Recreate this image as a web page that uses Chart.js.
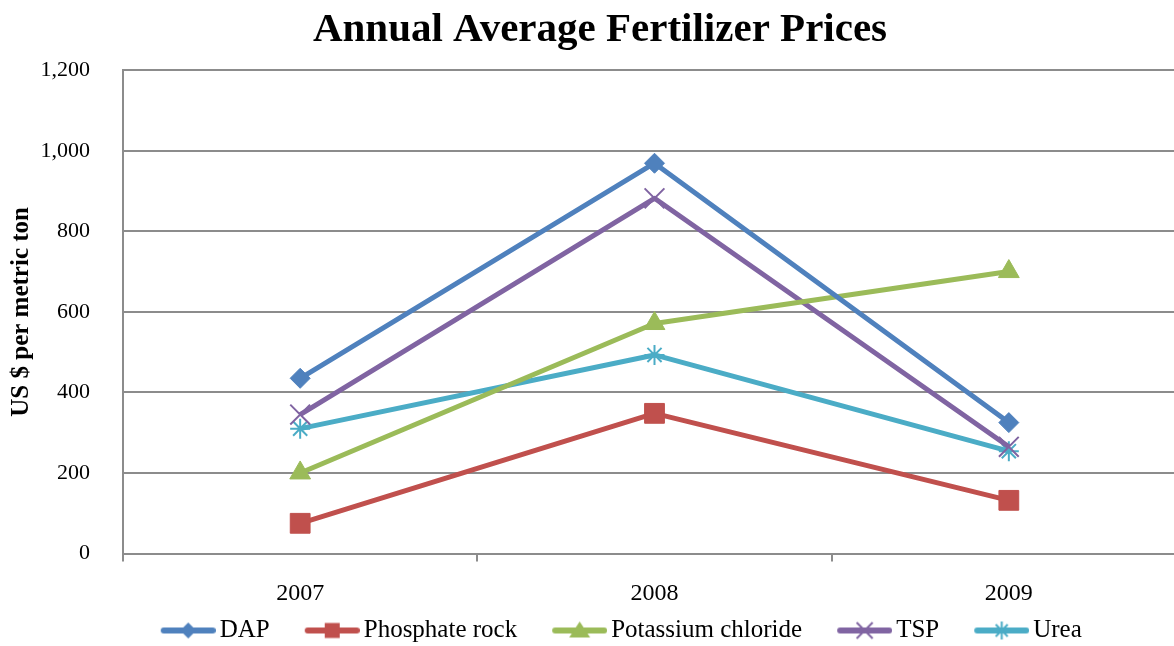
<!DOCTYPE html>
<html>
<head>
<meta charset="utf-8">
<script src="https://cdn.jsdelivr.net/npm/chart.js@4"></script>
<style>
  html, body { margin: 0; padding: 0; overflow: hidden; background: #fff; }
  #wrap { width: 1202px; height: 646px; }
</style>
</head>
<body>
<div id="wrap"><canvas id="priceChart"></canvas></div>
<script>
const years = ['2007', '2008', '2009'];
const dap = [435, 969, 325];
const phosphateRock = [75, 348, 132];
const potassiumChloride = [200, 571, 700];
const tsp = [345, 882, 265];
const urea = [310, 493, 254];
const yTicks = [0, 200, 400, 600, 800, 1000, 1200];

const axisGrey = '#8c8c8c';

// legend sample: a short line with the marker on it
function legendIcon(color, shape) {
    const c = document.createElement('canvas');
    c.width = 90;
    c.height = 26;
    const g = c.getContext('2d');
    g.strokeStyle = color;
    g.fillStyle = color;
    g.lineWidth = 6;
    g.lineCap = 'round';
    g.beginPath();
    g.moveTo(38, 13);
    g.lineTo(87, 13);
    g.stroke();
    const x = 62.5, y = 13;
    g.lineWidth = 2;
    g.lineCap = 'butt';
    g.beginPath();
    if (shape === 'diamond') {
        g.moveTo(x, y - 8); g.lineTo(x + 8, y); g.lineTo(x, y + 8); g.lineTo(x - 8, y);
        g.closePath(); g.fill();
    } else if (shape === 'square') {
        g.fillRect(x - 7.5, y - 7.5, 15, 15);
    } else if (shape === 'triangle') {
        g.moveTo(x, y - 9); g.lineTo(x + 10.5, y + 7); g.lineTo(x - 10.5, y + 7);
        g.closePath(); g.fill();
    } else if (shape === 'x') {
        g.moveTo(x - 8, y - 8); g.lineTo(x + 8, y + 8);
        g.moveTo(x + 8, y - 8); g.lineTo(x - 8, y + 8);
        g.stroke();
    } else if (shape === 'star') {
        g.moveTo(x - 6, y - 6); g.lineTo(x + 6, y + 6);
        g.moveTo(x + 6, y - 6); g.lineTo(x - 6, y + 6);
        g.moveTo(x, y - 9); g.lineTo(x, y + 9);
        g.stroke();
    }
    return c;
}

// the plot runs past the right edge, so title and legend are centred by hand
const nudge = {
    id: 'nudge',
    afterLayout(chart) {
        const t = chart.titleBlock;
        if (t) { t.left -= 1; t.right -= 1; }
        const l = chart.legend;
        if (l) { l.left += 7; l.right += 7; l.top += 7; l.bottom += 7; }
    }
};

Chart.defaults.font.family = "'Liberation Serif', 'Times New Roman', serif";
Chart.defaults.color = '#000';

const datasets = [{
    label: 'DAP',
    data: dap,
    borderColor: '#4f81bd',
    backgroundColor: '#4f81bd',
    pointStyle: 'rectRot',
    pointRadius: 10,
    pointBorderWidth: 1,
    icon: legendIcon('#4f81bd', 'diamond')
}, {
    label: 'Phosphate rock',
    data: phosphateRock,
    borderColor: '#c0504d',
    backgroundColor: '#c0504d',
    pointStyle: 'rect',
    pointRadius: 14,
    pointBorderWidth: 1,
    icon: legendIcon('#c0504d', 'square')
}, {
    label: 'Potassium chloride',
    data: potassiumChloride,
    borderColor: '#9bbb59',
    backgroundColor: '#9bbb59',
    pointStyle: 'triangle',
    pointRadius: 12,
    pointBorderWidth: 1,
    icon: legendIcon('#9bbb59', 'triangle')
}, {
    label: 'TSP',
    data: tsp,
    borderColor: '#8064a2',
    backgroundColor: '#8064a2',
    pointStyle: 'crossRot',
    pointRadius: 14,
    pointBorderWidth: 2,
    icon: legendIcon('#8064a2', 'x')
}, {
    label: 'Urea',
    data: urea,
    borderColor: '#4bacc6',
    backgroundColor: '#4bacc6',
    pointStyle: 'star',
    pointRadius: 10,
    pointBorderWidth: 2,
    icon: legendIcon('#4bacc6', 'star')
}];

datasets.forEach(ds => {
    ds.borderWidth = 5;
    ds.tension = 0;
    ds.fill = false;
    ds.borderJoinStyle = 'round';
    ds.pointHoverRadius = ds.pointRadius;
});

const config = {
    type: 'line',
    data: { labels: years, datasets: datasets },
    options: {
        responsive: true,
        maintainAspectRatio: false,
        animation: false,
        layout: { padding: 0 },
        plugins: {
            title: {
                display: true,
                text: 'Annual Average Fertilizer Prices',
                color: '#000',
                font: { size: 41, weight: 'bold' },
                padding: { top: 6, bottom: 15 }
            },
            legend: {
                position: 'bottom',
                labels: {
                    usePointStyle: true,
                    pointStyleWidth: 73,
                    padding: 8.5,
                    color: '#000',
                    font: { size: 25 },
                    generateLabels: chart => chart.data.datasets.map((ds, i) => ({
                        text: ds.label,
                        pointStyle: ds.icon,
                        datasetIndex: i,
                        hidden: false,
                        lineWidth: 0,
                        fillStyle: 'transparent',
                        strokeStyle: 'transparent',
                        fontColor: '#000'
                    }))
                }
            },
            tooltip: { enabled: false }
        },
        scales: {
            x: {
                offset: true,
                grid: {
                    offset: true,
                    drawOnChartArea: false,
                    drawTicks: true,
                    tickLength: 8,
                    color: axisGrey,
                    lineWidth: 2
                },
                border: { color: axisGrey, width: 2 },
                ticks: { color: '#000', font: { size: 24 }, padding: 18 },
                afterFit: s => { s.height = 49; s.paddingLeft = 0; s.paddingRight = 0; }
            },
            y: {
                min: 0,
                max: 1200,
                afterBuildTicks: s => { s.ticks = yTicks.map(v => ({ value: v })); },
                grid: { color: axisGrey, lineWidth: 2, drawTicks: false },
                border: { color: axisGrey, width: 2 },
                ticks: { color: '#000', font: { size: 22 }, padding: 33 },
                title: {
                    display: true,
                    text: 'US $ per metric ton',
                    color: '#000',
                    font: { size: 25, weight: 'bold' },
                    padding: { top: 7, bottom: 0 }
                },
                afterFit: s => { s.width = 123; }
            }
        }
    },
    plugins: [nudge]
};

const ctx = document.getElementById('priceChart').getContext('2d');
const priceChart = new Chart(ctx, config);
</script>
</body>
</html>
